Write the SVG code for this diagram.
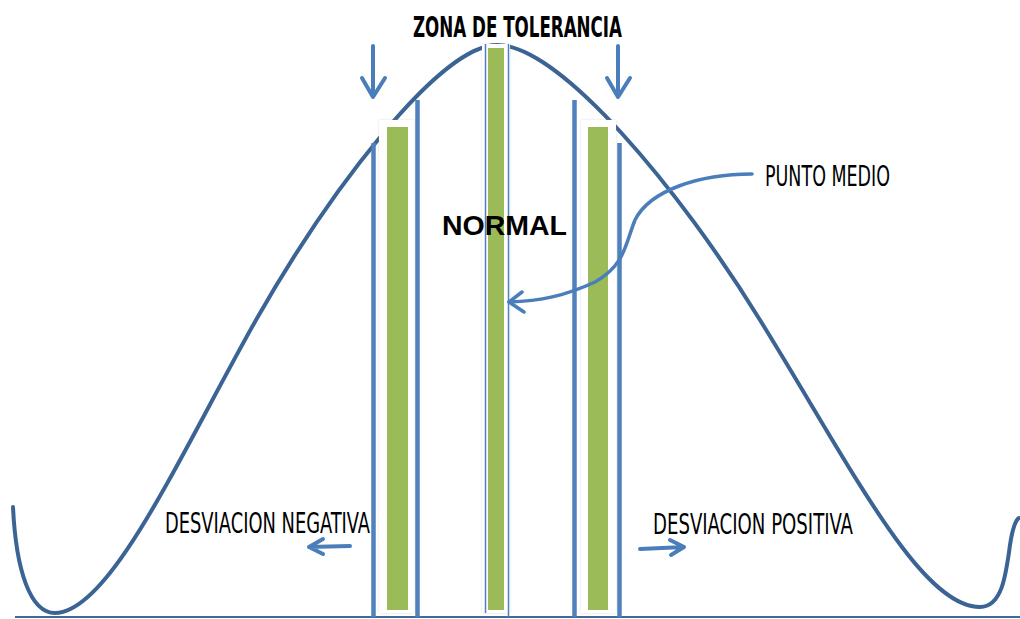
<svg xmlns="http://www.w3.org/2000/svg" width="1020" height="619" viewBox="0 0 1020 619">
<style>
.curve{fill:none;stroke:#3b6495;stroke-width:4;stroke-linecap:round}
.base{stroke:#41699a;stroke-width:2}
.vline{stroke:#4f81bd;stroke-width:4.5}
.thin{stroke:#4f81bd;stroke-width:1.5}
.bar{fill:#9bbb59}
.panel{fill:#ffffff;filter:url(#sh)}
.arr{fill:none;stroke:#4a7ebb;stroke-width:4;stroke-linecap:round;stroke-linejoin:round}
.cond{font-family:"DejaVu Sans Condensed","Liberation Sans",sans-serif;fill:#000}
.title{font-weight:bold;font-size:29px}
.lbl{font-size:29px}
.normal{font-family:"Liberation Sans",Arial,sans-serif;font-weight:bold;font-size:28px;fill:#000}
</style>
<defs>
<filter id="sh" x="-30%" y="-5%" width="160%" height="110%">
<feDropShadow dx="0" dy="0" stdDeviation="1.2" flood-color="#999" flood-opacity="0.35"/>
</filter>
</defs>
<line class="base" x1="15" y1="617" x2="1020" y2="617"/>
<path id="curve" class="curve" d="M13,507 C16,570 30,613 55,613 C110,613 180,455 256,320 C330,190 440,45 497,45 C560,45 680,190 760,320 C850,465 920,607 980,607 C1002,607 1006,575 1010,545 C1013,525 1016,520 1019,518"/>
<g id="left-band">
<rect class="panel" x="379" y="120" width="35" height="493"/>
<rect class="bar" x="387" y="127" width="21" height="483"/>
<line class="vline" x1="373.5" y1="143" x2="373.5" y2="617"/>
<line class="vline" x1="417.5" y1="100" x2="417.5" y2="617"/>
</g>
<g id="center-band">
<rect class="panel" x="482" y="44" width="28" height="569"/>
<rect class="bar" x="488" y="48" width="16" height="562"/>
<line class="thin" x1="485.5" y1="44" x2="485.5" y2="613"/>
<line class="thin" x1="508.5" y1="44" x2="508.5" y2="617"/>
</g>
<g id="right-band">
<rect class="panel" x="581" y="120" width="35" height="493"/>
<rect class="bar" x="588" y="127" width="20" height="483"/>
<line class="vline" x1="574.5" y1="100" x2="574.5" y2="617"/>
<line class="vline" x1="619.5" y1="143" x2="619.5" y2="617"/>
</g>
<g id="connectors">
<path class="arr" d="M373,46 L373,97 M362,78 L373,97 L385,78"/>
<path class="arr" d="M618,46 L618,97 M607,78 L618,97 L630,78"/>
<path class="arr" d="M350,546 L309,547 M323,539 L309,547 L323,554"/>
<path class="arr" d="M640,549 L684,547 M670,540 L684,547 L671,555"/>
<path d="M752,174 C700,174 650,190 635,220 C625,245 625,265 595,282 C565,296 540,301 509,302" fill="none" stroke="#4a7ebb" stroke-width="3.5" stroke-linecap="round"/>
<path d="M522,292 L509,302 L524,312" fill="none" stroke="#4a7ebb" stroke-width="3.5" stroke-linecap="round" stroke-linejoin="round"/>
</g>
<g id="title"><text class="cond title" x="413" y="37" textLength="209" lengthAdjust="spacingAndGlyphs">ZONA DE TOLERANCIA</text></g>
<g id="normal"><text class="normal" x="442" y="235" textLength="125" lengthAdjust="spacingAndGlyphs">NORMAL</text></g>
<g id="punto-medio"><text class="cond lbl" x="765" y="186" textLength="125" lengthAdjust="spacingAndGlyphs">PUNTO MEDIO</text></g>
<g id="desv-neg"><text class="cond lbl" x="165" y="533" textLength="205" lengthAdjust="spacingAndGlyphs">DESVIACION NEGATIVA</text></g>
<g id="desv-pos"><text class="cond lbl" x="653" y="534" textLength="200" lengthAdjust="spacingAndGlyphs">DESVIACION POSITIVA</text></g>
</svg>
